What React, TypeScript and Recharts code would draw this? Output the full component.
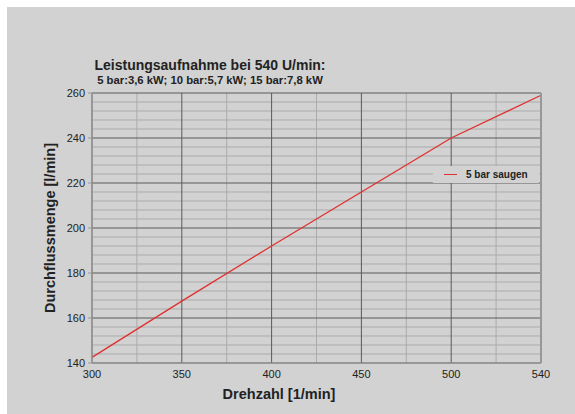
import { CartesianGrid, Line, LineChart, XAxis, YAxis } from "recharts";

const rpm = [300, 350, 400, 450, 500, 540];
const flow = [142.5, 167.5, 192, 216, 240, 259];
const seriesName = "5 bar saugen";
const yTicks = [140, 160, 180, 200, 220, 240, 260];
const yMinorTicks = [144, 148, 152, 156, 164, 168, 172, 176, 184, 188, 192, 196, 204, 208, 212, 216, 224, 228, 232, 236, 244, 248, 252, 256];
const xTicks = [0, 1, 2, 3, 4, 5];
const xMinorTicks = [0.5, 1.5, 2.5, 3.5, 4.5];

const data = rpm.map((r, i) => ({ i, rpm: r, flow: flow[i] }));

const FONT = "'Liberation Sans', Arial, sans-serif";
const BG = "#d1d2d1";

function LegendBox() {
  return (
    <div
      style={{
        position: "absolute",
        left: 426,
        top: 159,
        background: BG,
        width: 106,
        height: 17,
        display: "flex",
        alignItems: "center",
        fontSize: 10,
        fontWeight: 700,
        color: "#222",
      }}
    >
      <span style={{ display: "inline-block", width: 13, height: 1.5, background: "#e03030", marginLeft: 11, marginRight: 9 }} />
      {seriesName}
    </div>
  );
}

export default function App() {
  return (
    <div style={{ position: "absolute", left: 7, top: 7, width: 568, height: 407, background: BG, fontFamily: FONT }}>
      <div style={{ position: "absolute", left: 0, width: 406, top: 50, textAlign: "center", fontSize: 14, fontWeight: 700, color: "#222" }}>
        Leistungsaufnahme bei 540 U/min:
      </div>
      <div style={{ position: "absolute", left: 0, width: 406, top: 67, textAlign: "center", fontSize: 11.3, fontWeight: 700, color: "#222" }}>
        5 bar:3,6 kW; 10 bar:5,7 kW; 15 bar:7,8 kW
      </div>
      <div
        style={{
          position: "absolute",
          left: 43,
          top: 221,
          transform: "translate(-50%, -50%) rotate(-90deg)",
          whiteSpace: "nowrap",
          fontSize: 14.5,
          fontWeight: 700,
          color: "#222",
        }}
      >
        Durchflussmenge [l/min]
      </div>
      <div style={{ position: "absolute", left: 0, width: 544, top: 379, textAlign: "center", fontSize: 14.5, fontWeight: 700, color: "#222" }}>
        Drehzahl [1/min]
      </div>
      <LineChart width={568} height={407} data={data} margin={{ top: 86, right: 34, bottom: 26, left: 45 }}>
        <XAxis
          dataKey="i"
          type="number"
          domain={[0, 5]}
          ticks={xTicks}
          interval={0}
          tickFormatter={(v: number) => String(rpm[v])}
          height={25}
          tickSize={0}
          tickMargin={7}
          tick={{ fontSize: 11, fill: "#222", fontFamily: FONT }}
          axisLine={{ stroke: "#999" }}
        />
        <YAxis
          type="number"
          domain={[140, 260]}
          ticks={yTicks}
          interval={0}
          width={40}
          tickSize={4}
          tickMargin={3}
          tick={{ fontSize: 11, fill: "#222", fontFamily: FONT }}
          axisLine={{ stroke: "#999" }}
          tickLine={{ stroke: "#999" }}
        />
        <CartesianGrid stroke="#ababab" strokeWidth={1} horizontalValues={yMinorTicks} verticalValues={xMinorTicks} />
        <CartesianGrid stroke="#5a5a5a" strokeWidth={1} />
        <Line
          dataKey="flow"
          name={seriesName}
          stroke="#e03030"
          strokeWidth={1.3}
          dot={false}
          isAnimationActive={false}
        />
      </LineChart>
      <div style={{ position: "absolute", left: 533, top: 86, width: 1, height: 271, background: "#999" }} />
      <LegendBox />
    </div>
  );
}
